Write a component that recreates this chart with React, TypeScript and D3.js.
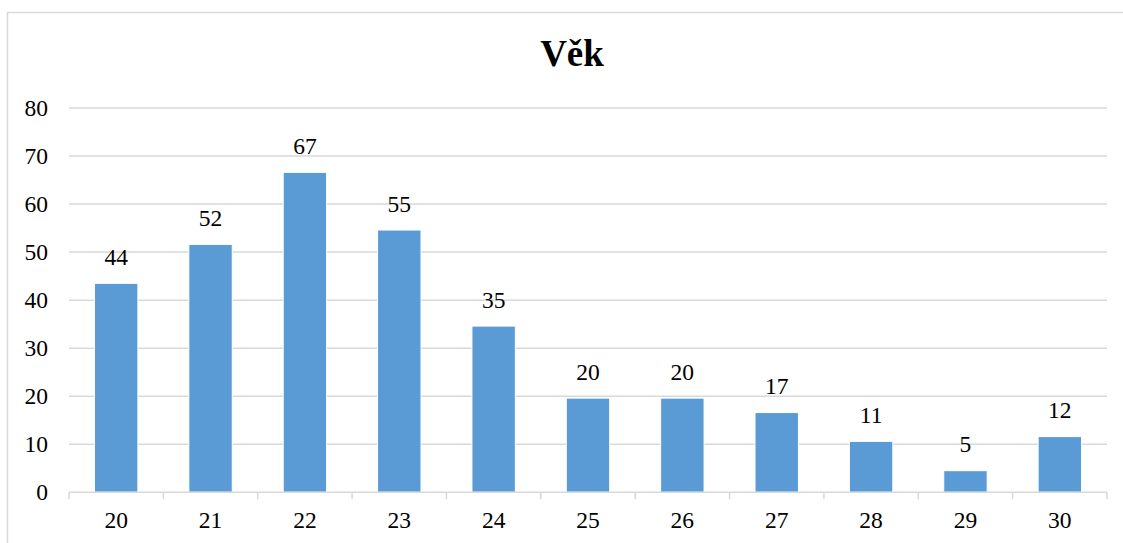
import React from "react";
import * as d3 from "d3";

const categories: string[] = ["20", "21", "22", "23", "24", "25", "26", "27", "28", "29", "30"];
const values: number[] = [43.5, 51.6, 66.6, 54.6, 34.6, 19.6, 19.6, 16.6, 10.6, 4.5, 11.6];
const yTicks: number[] = [0, 10, 20, 30, 40, 50, 60, 70, 80];
const title = "Věk";

const W = 1123;
const H = 543;

export default function App() {
  const x = d3
    .scaleBand<string>()
    .domain(categories)
    .range([69, 1107])
    .paddingInner(0.54)
    .paddingOuter(0.27);
  const y = d3.scaleLinear().domain([0, 80]).range([492.3, 108]);
  const step = x.step();
  const font = "Liberation Serif, serif";
  const grid = "#d9d9d9";
  const ts: React.CSSProperties = { fontFamily: font };

  return (
    <svg
      width={W}
      height={H}
      style={{ position: "absolute", left: 0, top: 0, background: "#fff" }}
    >
      <rect x={7.5} y={12.5} width={W + 20} height={H + 20} fill="#fff" stroke={grid} strokeWidth={1.5} />
      <text x={572} y={66} textAnchor="middle" fontSize={37} fontWeight="bold" fill="#000" style={ts}>
        {title}
      </text>
      {yTicks.map((t) => (
        <g key={t}>
          {t > 0 && (
            <line x1={69} x2={1107} y1={y(t)} y2={y(t)} stroke={grid} strokeWidth={1.5} />
          )}
          <text x={48} y={y(t) + 8} textAnchor="end" fontSize={23.5} fill="#000" style={ts}>
            {t}
          </text>
        </g>
      ))}
      {categories.map((c, i) => {
        const v = values[i];
        const bx = x(c) as number;
        const cx = bx + x.bandwidth() / 2;
        return (
          <g key={c}>
            <rect
              x={bx}
              y={y(v)}
              width={x.bandwidth()}
              height={y(0) - y(v)}
              fill="#5B9BD5"
              stroke="#fff"
              strokeWidth={1}
            />
            <text x={cx} y={y(v) - 18.5} textAnchor="middle" fontSize={23.5} fill="#000" style={ts}>
              {Math.round(v)}
            </text>
            <text x={cx} y={528} textAnchor="middle" fontSize={23.5} fill="#000" style={ts}>
              {c}
            </text>
          </g>
        );
      })}
      <line x1={69} x2={1107} y1={y(0)} y2={y(0)} stroke={grid} strokeWidth={1.5} />
      {d3.range(categories.length + 1).map((i) => {
        const tx = 69 + i * step;
        return <line key={i} x1={tx} x2={tx} y1={y(0)} y2={y(0) + 7} stroke={grid} strokeWidth={1.5} />;
      })}
    </svg>
  );
}
